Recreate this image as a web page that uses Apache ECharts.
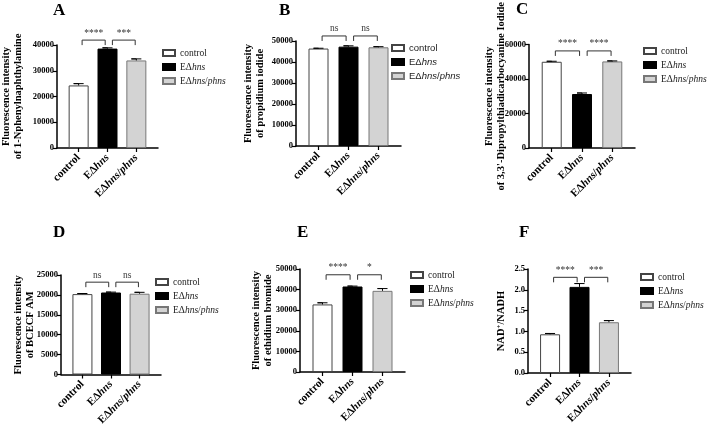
<!DOCTYPE html>
<html>
<head>
<meta charset="utf-8">
<script src="https://cdn.jsdelivr.net/npm/echarts@6/dist/echarts.min.js"></script>
<style>
  html, body { margin: 0; padding: 0; background: #fff; }
  #chart { width: 708px; height: 428px; }
</style>
</head>
<body>
<div id="chart"></div>
<script>
// groups and panels
const groups = ['control', 'EΔhns', 'EΔhns/phns'];
const letters = ['A', 'B', 'C', 'D', 'E', 'F'];
const yNames = [
  'Fluorescence intensity\nof 1-Nphenylnaphthylamine',
  'Fluorescence intensity\nof propidium iodide',
  'Fluorescence intensity\nof 3,3\'-Dipropylthiadicarbocyanine Iodide',
  'Fluorescence intensity\nof BCECF AM',
  'Fluorescence intensity\nof ethidium bromide',
  'NAD{sup|+}/NADH'
];
const yMax = [40000, 50000, 60000, 25000, 50000, 2.5];
const yStep = [10000, 10000, 20000, 5000, 10000, 0.5];
// bar heights (mean) and error (sd)
const means = [
  [24300, 38600, 34000],
  [46400, 47300, 47000],
  [50000, 31300, 50200],
  [20200, 20600, 20300],
  [32800, 41500, 39400],
  [0.93, 2.07, 1.22]
];
const sds = [
  [700, 300, 600],
  [150, 400, 300],
  [300, 600, 300],
  [150, 100, 350],
  [800, 200, 1100],
  [0.02, 0.08, 0.04]
];
// significance brackets
const sigLabels = [['****', '***'], ['ns', 'ns'], ['****', '****'], ['ns', 'ns'], ['****', '*'], ['****', '***']];
const bracketY = [41900, 52400, 56300, 23200, 47200, 2.30];
const bracketSpans = [[0.12, 0.92], [1.17, 1.96]];

// panel positions (px)
const layout = [
  { left: 57, top: 45, width: 101, height: 103, title: [53, 2], legend: [162, 47], nameGap: 33, legendFont: 'Liberation Serif' },
  { left: 296, top: 41, width: 105, height: 105, title: [279, 2], legend: [391, 42], nameGap: 30, legendFont: 'Liberation Sans' },
  { left: 529, top: 44, width: 106, height: 104, title: [516, 1], legend: [643, 45], nameGap: 22, legendFont: 'Liberation Serif' },
  { left: 61, top: 275, width: 100, height: 102, title: [53, 224], legend: [155, 276], nameGap: 25, legendFont: 'Liberation Serif' },
  { left: 300, top: 269, width: 105, height: 103, title: [297, 224], legend: [410, 269], nameGap: 26, legendFont: 'Liberation Serif' },
  { left: 528, top: 269, width: 103, height: 104, title: [519, 224], legend: [640, 271], nameGap: 21, legendFont: 'Liberation Serif' }
];

const serif = 'Liberation Serif';
const fills = ['#ffffff', '#000000', '#d3d3d3'];
const borders = ['#444444', '#000000', '#777777'];

function richName(name) {
  return name.replace(/p?hns/g, m => '{i|' + m + '}');
}

const option = {
  animation: false,
  backgroundColor: '#fff',
  title: [],
  legend: [],
  grid: [],
  xAxis: [],
  yAxis: [],
  series: []
};

letters.forEach((letter, p) => {
  const L = layout[p];
  option.title.push({
    text: letter, left: L.title[0], top: L.title[1], padding: 0,
    textStyle: { fontFamily: serif, fontWeight: 'bold', fontSize: 17, color: '#000' }
  });
  option.legend.push({
    data: groups, orient: 'vertical', left: L.legend[0], top: L.legend[1], padding: 0,
    icon: 'rect', itemWidth: 12, itemHeight: 6, itemGap: 2,
    selectedMode: false,
    formatter: richName,
    textStyle: {
      fontFamily: L.legendFont, fontSize: 9.5, color: '#222', lineHeight: 12,
      rich: { i: { fontFamily: L.legendFont, fontSize: 9.5, fontStyle: 'italic', color: '#222' } }
    }
  });
  option.grid.push({ left: L.left, top: L.top, width: L.width, height: L.height });
  option.xAxis.push({
    type: 'value', gridIndex: p, min: -0.75, max: 2.75,
    splitLine: { show: false },
    axisLine: { show: true, onZero: false, lineStyle: { color: '#000', width: 1.5 } },
    axisTick: { show: true, length: 4, customValues: [0, 1, 2], lineStyle: { color: '#000', width: 1.2 } },
    axisLabel: {
      customValues: [0, 1, 2], rotate: 45, margin: 8,
      formatter: v => richName(groups[v]),
      fontFamily: serif, fontWeight: 'bold', fontSize: 11, color: '#000',
      rich: { i: { fontFamily: serif, fontWeight: 'bold', fontStyle: 'italic', fontSize: 11, color: '#000' } }
    }
  });
  option.yAxis.push({
    type: 'value', gridIndex: p, min: 0, max: yMax[p], interval: yStep[p],
    name: yNames[p], nameLocation: 'middle', nameGap: L.nameGap, nameMoveOverlap: false,
    nameTextStyle: {
      fontFamily: serif, fontWeight: 'bold', fontSize: 10.5, lineHeight: 11.5, color: '#000',
      rich: { sup: { fontFamily: serif, fontWeight: 'bold', fontSize: 7, lineHeight: 8, verticalAlign: 'top' } }
    },
    splitLine: { show: false },
    axisLine: { show: true, onZero: false, lineStyle: { color: '#000', width: 1.5 } },
    axisTick: { show: true, length: 4, lineStyle: { color: '#000', width: 1.2 } },
    axisLabel: {
      margin: 3, fontFamily: serif, fontWeight: 'bold', fontSize: 8.5, color: '#000',
      formatter: v => (yMax[p] < 10 ? v.toFixed(1) : String(v))
    }
  });
  groups.forEach((g, i) => {
    option.series.push({
      type: 'bar', name: g, xAxisIndex: p, yAxisIndex: p,
      barWidth: 20, barGap: '-100%',
      data: [[i, means[p][i]]],
      itemStyle: { color: fills[i], borderColor: borders[i], borderWidth: 1 }
    });
  });
  // error bars: x, mean, top
  option.series.push({
    type: 'custom', xAxisIndex: p, yAxisIndex: p, silent: true, z: 5,
    dimensions: ['x', 'mean', 'top'],
    encode: { x: 'x', y: 'mean' },
    data: means[p].map((m, i) => [i, m, m + sds[p][i]]),
    renderItem: (params, api) => {
      const a = api.coord([api.value('x'), api.value('mean')]);
      const b = api.coord([api.value('x'), api.value('top')]);
      return {
        type: 'polyline',
        shape: { points: [[a[0], a[1]], [b[0], b[1]], [b[0] - 5, b[1]], [b[0] + 5, b[1]]] },
        style: { stroke: '#000', lineWidth: 1, fill: null }
      };
    }
  });
  // significance brackets
  option.series.push({
    type: 'custom', xAxisIndex: p, yAxisIndex: p, silent: true, clip: false,
    dimensions: ['x1', 'x2', 'y', 'k'],
    encode: { x: 'x1', y: 'y' },
    data: bracketSpans.map((s, k) => [s[0], s[1], bracketY[p], k]),
    renderItem: (params, api) => {
      const a = api.coord([api.value('x1'), api.value('y')]);
      const b = api.coord([api.value('x2'), api.value('y')]);
      const leg = 5;
      return {
        type: 'group', children: [
          {
            type: 'polyline',
            shape: { points: [[a[0], a[1] + leg], [a[0], a[1]], [b[0], a[1]], [b[0], a[1] + leg]] },
            style: { stroke: '#333', lineWidth: 1, fill: null }
          },
          {
            type: 'text',
            style: {
              text: sigLabels[p][api.value('k')], x: (a[0] + b[0]) / 2, y: a[1] - 2,
              align: 'center', verticalAlign: 'bottom',
              font: '9.5px "Liberation Serif"', fill: '#333'
            }
          }
        ]
      };
    }
  });
});

const chart = echarts.init(document.getElementById('chart'), null, { renderer: 'canvas' });
chart.setOption(option);
</script>
</body>
</html>
